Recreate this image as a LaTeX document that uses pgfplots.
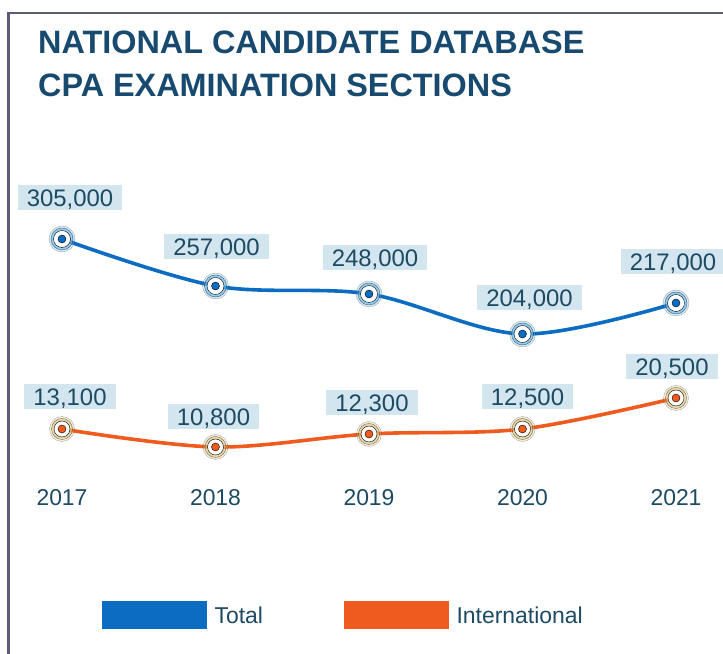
\documentclass[border=0pt]{standalone}
\usepackage{pgfplots}
\usepackage{pgfplotstable}
\usepackage{fontspec}
\setmainfont{Liberation Sans}
\pgfplotsset{compat=1.18}

\definecolor{totblue}{HTML}{0B6CC2}
\definecolor{intorange}{HTML}{EF5A1F}
\definecolor{titleblue}{HTML}{174A6E}
\definecolor{lbltext}{HTML}{1D4A63}
\definecolor{lblbox}{HTML}{D3E6F0}
\definecolor{framec}{HTML}{5A5C78}
\definecolor{blueglow}{HTML}{6BBCEE}
\definecolor{orangeglow}{HTML}{E2C883}

% pos = drawn height (the chart is not to scale), label = value shown
\pgfplotstableread{
year pos label dx dy
2017 415 305,000 8 41
2018 368 257,000 1 39
2019 360 248,000 6 36
2020 320 204,000 7 36
2021 351 217,000 -3 41
}\total

\pgfplotstableread{
year pos label dx dy
2017 225 13,100 8 32
2018 207 10,800 -2 30
2019 220 12,300 3 31
2020 225 12,500 5 32
2021 256 20,500 -4 31
}\intl

\begin{document}
\begin{tikzpicture}
\useasboundingbox (0,0) rectangle (723bp,654bp);
\begin{axis}[
    at={(0,0)}, anchor=south west,
    scale only axis, width=723bp, height=654bp,
    xmin=2016.59609, xmax=2021.30619, ymin=0, ymax=654,
    axis line style={draw=none}, major tick length=0pt,
    ytick=\empty,
    xtick={2017,2018,2019,2020,2021},
    xticklabels={2017,2018,2019,2020,2021},
    xticklabel style={anchor=center, yshift=157bp, inner sep=0pt,
        font=\fontsize{23}{23}\selectfont, text=lbltext,
        text height=16.5bp, text depth=0pt},
    clip=false,
    legend columns=2,
    legend style={draw=none, fill=none, inner sep=0pt, outer sep=0pt,
        at={(0.14108,0.05963)}, anchor=west,
        font=\fontsize{23}{23}\selectfont, text=lbltext,
        nodes={anchor=west, inner sep=0pt, text height=16.5bp, text depth=0pt},
        /tikz/every odd column/.style={column sep=8bp},
        /tikz/every even column/.style={column sep=81bp}},
    lbl/.style={
        nodes near coords,
        point meta=explicit symbolic,
        visualization depends on={\thisrow{dx} \as \dx},
        visualization depends on={\thisrow{dy} \as \dy},
        every node near coord/.style={anchor=center, xshift=\dx bp, yshift=\dy bp,
            fill=lblbox, text=lbltext, font=\fontsize{24}{24}\selectfont,
            inner xsep=9bp, inner ysep=4bp, text height=17bp, text depth=0pt}},
]
% lines
\addplot[totblue, line width=3.6bp, smooth, tension=0.55, mark=none,
    legend image code/.code={\fill[totblue] (0bp,-12bp) rectangle (101bp,12bp);}]
    table[x=year, y=pos] {\total};
\addlegendentry{Total}
\addplot[intorange, line width=3.6bp, smooth, tension=0.55, mark=none,
    legend image code/.code={\fill[intorange] (0bp,-12bp) rectangle (101bp,12bp);}]
    table[x=year, y=pos] {\intl};
\addlegendentry{International}

% markers: soft glow, white disc, coloured centre
\addplot[forget plot, only marks, mark=*, mark size=13bp,
    mark options={fill=blueglow, draw=none, opacity=0.3}]
    table[x=year, y=pos] {\total};
\addplot[forget plot, only marks, mark=*, mark size=11bp,
    mark options={fill=blueglow, draw=none, opacity=0.6}]
    table[x=year, y=pos] {\total};
\addplot[forget plot, only marks, mark=*, mark size=8.5bp,
    mark options={fill=white, draw=none}]
    table[x=year, y=pos] {\total};
\addplot[forget plot, only marks, mark=*, mark size=4bp,
    mark options={fill=totblue, draw=none}, lbl]
    table[x=year, y=pos, meta=label] {\total};

\addplot[forget plot, only marks, mark=*, mark size=12.5bp,
    mark options={fill=orangeglow, draw=none, opacity=0.3}]
    table[x=year, y=pos] {\intl};
\addplot[forget plot, only marks, mark=*, mark size=10.5bp,
    mark options={fill=orangeglow, draw=none, opacity=0.55}]
    table[x=year, y=pos] {\intl};
\addplot[forget plot, only marks, mark=*, mark size=8bp,
    mark options={fill=white, draw=none}]
    table[x=year, y=pos] {\intl};
\addplot[forget plot, only marks, mark=*, mark size=4bp,
    mark options={fill=intorange, draw=none}, lbl]
    table[x=year, y=pos, meta=label] {\intl};
\end{axis}

% frame and title
\draw[framec, line width=2.5bp] (8.5bp,0bp) -- (8.5bp,641bp) -- (723bp,641bp);
\node[anchor=base west, inner sep=0pt, text=titleblue,
    font=\fontsize{32.5}{32.5}\selectfont\bfseries] at (38bp,600bp)
    {NATIONAL CANDIDATE DATABASE};
\node[anchor=base west, inner sep=0pt, text=titleblue,
    font=\fontsize{32.5}{32.5}\selectfont\bfseries] at (38bp,557bp)
    {CPA EXAMINATION SECTIONS};
\end{tikzpicture}
\end{document}
